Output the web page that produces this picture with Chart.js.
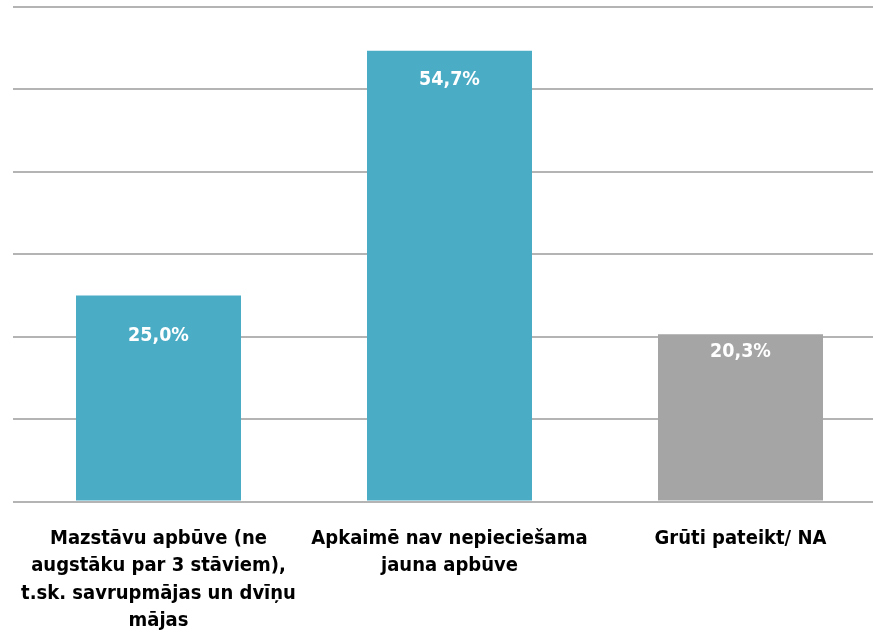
<!DOCTYPE html>
<html>
<head>
<meta charset="utf-8">
<script src="https://cdn.jsdelivr.net/npm/chart.js@4.4.0/dist/chart.umd.min.js"></script>
<style>
  html, body { margin: 0; padding: 0; background: #fff; overflow: hidden; }
  #wrap { width: 890px; height: 650px; position: relative; }
</style>
</head>
<body>
<div id="wrap"><canvas id="grafiks"></canvas></div>
<script>
// Kategorijas (ar rindu pārnesumiem kā oriģinālā)
const kategorijas = [
    ['Mazstāvu apbūve (ne', 'augstāku par 3 stāviem),', 't.sk. savrupmājas un dvīņu', 'mājas'],
    ['Apkaimē nav nepieciešama', 'jauna apbūve'],
    ['Grūti pateikt/ NA']
];
const vertibas = [25.0, 54.7, 20.3];
const krasas = ['#4bacc6', '#4bacc6', '#a5a5a5'];

const fonts = "'Liberation Sans Narrow', 'DejaVu Sans Condensed', sans-serif";

// Vērtību etiķetes joslas iekšpusē, augšā
const etiketes = {
    id: 'etiketes',
    afterDatasetsDraw(chart, args, opts) {
        const ctx = chart.ctx;
        const meta = chart.getDatasetMeta(0);
        ctx.save();
        ctx.fillStyle = '#ffffff';
        ctx.font = 'bold 19.5px ' + fonts;
        ctx.textAlign = 'center';
        ctx.textBaseline = 'middle';
        meta.data.forEach((bar, i) => {
            const v = chart.data.datasets[0].data[i];
            const txt = v.toFixed(1).replace('.', ',') + '%';
            ctx.fillText(txt, bar.x, bar.y + opts.nobides[i]);
        });
        ctx.restore();
    }
};

new Chart(document.getElementById('grafiks'), {
    type: 'bar',
    data: {
        labels: kategorijas,
        datasets: [{
            data: vertibas,
            backgroundColor: krasas,
            borderWidth: 0,
            categoryPercentage: 1.0,
            barPercentage: 0.567
        }]
    },
    options: {
        responsive: true,
        maintainAspectRatio: false,
        animation: false,
        layout: {
            padding: { left: 13, right: 4, top: 7, bottom: 0 }
        },
        scales: {
            x: {
                grid: { display: false },
                border: { display: false },
                ticks: {
                    color: '#000000',
                    font: { family: fonts, size: 20, weight: 'bold', lineHeight: 1.38 },
                    maxRotation: 0,
                    autoSkip: false,
                    padding: 15
                }
            },
            y: {
                min: 0,
                max: 60,
                ticks: { display: false, stepSize: 10 },
                border: { display: false },
                grid: {
                    color: '#b4b4b4',
                    lineWidth: 2,
                    drawTicks: false
                }
            }
        },
        plugins: {
            legend: { display: false },
            tooltip: { enabled: false },
            etiketes: { nobides: [40, 29, 18] }
        }
    },
    plugins: [etiketes]
});
</script>
</body>
</html>
